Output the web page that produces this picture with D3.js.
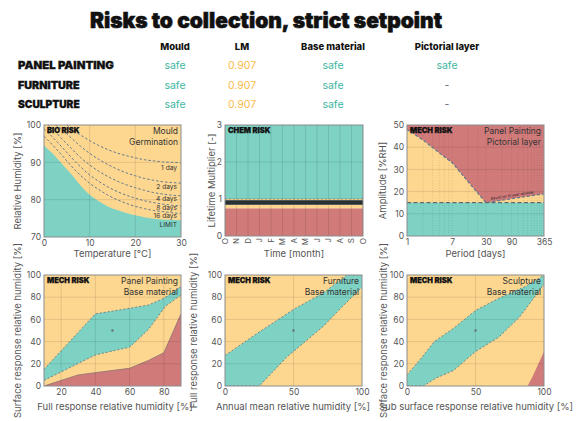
<!DOCTYPE html>
<html>
<head>
<meta charset="utf-8">
<script src="https://cdn.jsdelivr.net/npm/d3@7"></script>
<style>
  body { margin: 0; background: #fff; }
  svg { display: block; font-family: Inter, 'Noto Sans', sans-serif; }
  .tick text { fill: #555; font-size: 8.5px; font-family: Inter, 'Noto Sans', sans-serif; }
  .axis-title { fill: #555; font-size: 9.5px; text-anchor: middle; }
  .risk-tag { font-weight: 900; font-size: 7.5px; fill: #111; }
  .panel-note { font-size: 8.5px; fill: #333; text-anchor: end; }
  .iso-label { font-size: 6.6px; fill: #333; text-anchor: end; }
</style>
</head>
<body>
<svg id="chart"></svg>
<script>
// summary table
const tableColumns = ['Mould', 'LM', 'Base material', 'Pictorial layer'];
const tableRows = ['PANEL PAINTING', 'FURNITURE', 'SCULPTURE'];
const tableValues = [
  ['safe', '0.907', 'safe', 'safe'],
  ['safe', '0.907', 'safe', '-'],
  ['safe', '0.907', 'safe', '-']
];

// bio risk: germination isopleths [temperature, RH]
const isoLimit = [[0, 94.6], [2, 92.2], [4, 89.5], [6, 86.8], [8, 83.8], [10, 81.3], [12, 79.6], [14, 78.2], [16, 77.2], [18, 76.4], [20, 75.8], [22, 75.3], [24, 74.9], [26, 74.7], [28, 74.6], [30, 74.5]];
const iso16 = [[0, 97], [2, 94.5], [4, 91.8], [6, 89], [8, 86.5], [10, 84.4], [12, 82.7], [14, 81.2], [16, 80], [18, 79], [20, 78.2], [22, 77.6], [24, 77.1], [26, 76.8], [28, 76.5], [30, 76.3]];
const iso8 = [[0, 99], [2, 96.6], [4, 94], [6, 91.3], [8, 88.8], [10, 86.6], [12, 84.9], [14, 83.4], [16, 82.2], [18, 81.2], [20, 80.4], [22, 79.7], [24, 79.2], [26, 78.8], [28, 78.5], [30, 78.3]];
const iso4 = [[0.8, 100], [2, 98.8], [4, 96.2], [6, 93.7], [8, 91.3], [10, 89.3], [12, 87.6], [14, 86.2], [16, 85], [18, 84], [20, 83.2], [22, 82.5], [24, 81.9], [26, 81.5], [28, 81.2], [30, 81]];
const iso2 = [[2.5, 100], [4, 98.8], [6, 96.5], [8, 94.3], [10, 92.4], [12, 90.8], [14, 89.4], [16, 88.2], [18, 87.2], [20, 86.4], [22, 85.7], [24, 85.2], [26, 84.8], [28, 84.6], [30, 84.4]];
const iso1 = [[5, 100], [6, 99], [8, 97.3], [10, 95.8], [12, 94.5], [14, 93.4], [16, 92.5], [18, 91.8], [20, 91.2], [22, 90.7], [24, 90.4], [26, 90.1], [28, 90], [30, 89.9]];
const isoNames = ['1 day', '2 days', '4 days', '8 days', '16 days', 'LIMIT'];

// chem risk
const months = ['O', 'N', 'D', 'J', 'F', 'M', 'A', 'M', 'J', 'J', 'A', 'S', 'O'];
const lmValues = [0.907, 0.907, 0.907, 0.907, 0.907, 0.907, 0.907, 0.907, 0.907, 0.907, 0.907, 0.907, 0.907];
const chemBandEdges = [0, 0.75, 1, 3];

// mech risk, pictorial layer: [period days, amplitude]
const pictorialLimit = [[1, 48], [2, 43.2], [4, 37.5], [7, 33], [10, 28.6], [15, 23.5], [30, 15], [365, 19]];
const pictorialSafe = 15;
const periodTicks = [1, 7, 30, 90, 365];
const periodGrid = [2, 3, 4, 5, 6, 7, 14, 21, 30, 60, 90, 120, 150, 180, 210, 240, 270, 300, 330];

// mech risk, base material: [x RH, y RH]
const ppUpper = [[10, 15], [31, 50], [40, 65], [60, 70], [71, 73], [80, 79], [90, 89.5]];
const ppLower = [[10, 5], [40, 28], [60, 35], [71, 51], [81, 72], [90, 82]];
const ppRed = [[10, 0], [30, 10], [40, 12], [60, 16], [71, 23], [80, 30], [90, 65]];
const furUpper = [[0, 27.5], [23, 47], [50, 69], [72, 84], [89, 100], [100, 100]];
const furLower = [[0, 0], [25, 0], [45, 26], [72, 54], [86, 72], [100, 89]];
const scUpper = [[0, 10], [9, 23], [20, 40], [34, 52], [50, 68], [67, 79], [87, 90], [99, 99], [100, 100]];
const scLower = [[0, 0], [12, 0], [21, 7], [34, 14], [50, 31], [67, 44], [82, 62], [93, 80], [100, 92]];
const scRed = [[88, 0], [91.5, 8], [100, 31], [100, 0]];
const setpoint = [50, 50];

const col = { low: '#7dd2c4', mid: '#fdd790', high: '#d17a7a' };

const svg = d3.select('#chart').attr('width', 579).attr('height', 421);
const defs = svg.append('defs');

// title + table
svg.append('text')
    .attr('x', 266).attr('y', 28)
    .attr('text-anchor', 'middle')
    .attr('textLength', 352).attr('lengthAdjust', 'spacingAndGlyphs')
    .style('font-weight', 900).style('font-size', '21px').style('fill', '#111')
    .style('stroke', '#111').style('stroke-width', 0.6)
    .text('Risks to collection, strict setpoint');

const colX = d3.scaleOrdinal().domain(tableColumns).range([175, 242, 333, 447]);
const rowY = d3.scalePoint().domain(tableRows).range([69, 108]);

svg.selectAll('.col-head')
  .data(tableColumns)
  .enter().append('text')
    .attr('x', d => colX(d)).attr('y', 50)
    .attr('text-anchor', 'middle')
    .style('font-weight', 800).style('font-size', '9.5px').style('fill', '#111')
    .text(d => d);

tableRows.forEach((r, i) => {
  svg.append('text')
      .attr('x', 18).attr('y', rowY(r))
      .attr('lengthAdjust', 'spacingAndGlyphs')
      .attr('textLength', r.length * 6.85)
      .style('font-weight', 900).style('font-size', '10.5px').style('fill', '#111')
      .style('stroke', '#111').style('stroke-width', 0.3)
      .text(r);
  tableValues[i].forEach((v, j) => {
    svg.append('text')
        .attr('x', colX(tableColumns[j])).attr('y', rowY(r))
        .attr('text-anchor', 'middle')
        .style('font-size', '10.5px')
        .style('fill', v === 'safe' ? '#3db5a0' : (v === '-' ? '#666' : '#fbbb4c'))
        .text(v);
  });
});

// panel helper
let clipId = 0;
function makePanel(left, top, w, h, x, y) {
  x.range([0, w]);
  y.range([h, 0]);
  const id = `clip${clipId++}`;
  defs.append('clipPath').attr('id', id)
    .append('rect').attr('width', w).attr('height', h);
  const g = svg.append('g').attr('transform', `translate(${left},${top})`);
  const plot = g.append('g').attr('clip-path', `url(#${id})`);
  return { g, plot, x, y, w, h };
}

function grid(p, xs, ys, dash) {
  p.plot.selectAll(null).data(xs).enter().append('line')
      .attr('x1', d => p.x(d)).attr('x2', d => p.x(d))
      .attr('y1', 0).attr('y2', p.h)
      .attr('stroke', 'rgba(0,0,0,0.13)').attr('stroke-width', 0.8)
      .attr('stroke-dasharray', dash || null);
  p.plot.selectAll(null).data(ys).enter().append('line')
      .attr('y1', d => p.y(d)).attr('y2', d => p.y(d))
      .attr('x1', 0).attr('x2', p.w)
      .attr('stroke', 'rgba(0,0,0,0.13)').attr('stroke-width', 0.8);
}

function frame(p) {
  p.g.append('rect')
      .attr('width', p.w).attr('height', p.h)
      .attr('fill', 'none').attr('stroke', '#8c8c8c').attr('stroke-width', 1);
}

function axes(p, xTicks, yTicks, xFmt) {
  if (xTicks) {
    p.g.append('g')
        .attr('transform', `translate(0,${p.h})`)
        .call(d3.axisBottom(p.x).tickValues(xTicks).tickSize(0).tickPadding(3)
          .tickFormat(xFmt || d3.format('d')))
        .call(a => a.select('.domain').remove());
  }
  p.g.append('g')
      .call(d3.axisLeft(p.y).tickValues(yTicks).tickSize(0).tickPadding(3)
        .tickFormat(d3.format('d')))
      .call(a => a.select('.domain').remove());
}

function titles(p, xt, yt, xCenter, xBase, yCenter) {
  p.g.append('text').attr('class', 'axis-title')
      .attr('x', xCenter).attr('y', xBase).text(xt);
  p.g.append('text').attr('class', 'axis-title')
      .attr('transform', `translate(${yCenter},${p.h / 2}) rotate(-90)`)
      .attr('dy', '0.35em').text(yt);
}

function tags(p, risk, line1, line2) {
  p.g.append('text').attr('class', 'risk-tag').attr('x', 3).attr('y', 8)
      .style('stroke', '#111').style('stroke-width', 0.25).text(risk);
  if (line1) p.g.append('text').attr('class', 'panel-note').attr('x', p.w - 3).attr('y', 9).text(line1);
  if (line2) p.g.append('text').attr('class', 'panel-note').attr('x', p.w - 3).attr('y', 20).text(line2);
}

// ---- BIO RISK
const bio = makePanel(44, 125, 137, 112, d3.scaleLinear().domain([0, 30]), d3.scaleLinear().domain([70, 100]));
bio.plot.append('rect').attr('width', bio.w).attr('height', bio.h).attr('fill', col.mid);
bio.plot.append('path')
    .datum(isoLimit)
    .attr('fill', col.low)
    .attr('d', d3.area().x(d => bio.x(d[0])).y0(bio.h).y1(d => bio.y(d[1])).curve(d3.curveMonotoneX));
grid(bio, [10, 20], [80, 90]);
[iso1, iso2, iso4, iso8, iso16].forEach(iso => {
  bio.plot.append('path')
      .datum(iso)
      .attr('fill', 'none').attr('stroke', '#4f6f8f').attr('stroke-width', 0.9)
      .attr('stroke-dasharray', '2.5,2')
      .attr('d', d3.line().x(d => bio.x(d[0])).y(d => bio.y(d[1])).curve(d3.curveMonotoneX));
});
const isoOffset = [7.3, 5.8, 5, 4.2, 5, 6.7];
[iso1, iso2, iso4, iso8, iso16, isoLimit].forEach((iso, i) => {
  const last = iso[iso.length - 1];
  bio.g.append('text').attr('class', 'iso-label')
      .attr('x', bio.w - 4).attr('y', bio.y(last[1]) + isoOffset[i])
      .text(isoNames[i]);
});
frame(bio);
axes(bio, [0, 10, 20, 30], [70, 80, 90, 100]);
titles(bio, 'Temperature [\u00b0C]', 'Relative Humidity [%]', 68.5, 132, -26);
tags(bio, 'BIO RISK', 'Mould', 'Germination');

// ---- CHEM RISK
const chem = makePanel(225, 125, 138, 111, d3.scaleLinear().domain([0, months.length - 1]), d3.scaleLinear().domain([0, 3]));
const bandFill = [col.high, col.mid, col.low];
chem.plot.selectAll(null).data(d3.pairs(chemBandEdges)).enter().append('rect')
    .attr('x', 0).attr('width', chem.w)
    .attr('y', d => chem.y(d[1])).attr('height', d => chem.y(d[0]) - chem.y(d[1]))
    .attr('fill', (d, i) => bandFill[i]);
grid(chem, d3.range(months.length), [1, 2]);
chem.plot.append('line')
    .attr('x1', 0).attr('x2', chem.w)
    .attr('y1', chem.y(1)).attr('y2', chem.y(1))
    .attr('stroke', '#9a8a60').attr('stroke-width', 0.8).attr('stroke-dasharray', '2,2');
const lmLine = d3.line().x((d, i) => chem.x(i)).y(d => chem.y(d));
chem.plot.append('path').datum(lmValues)
    .attr('fill', 'none').attr('stroke', '#5f6668').attr('stroke-width', 5).attr('d', lmLine);
chem.plot.append('path').datum(lmValues)
    .attr('fill', 'none').attr('stroke', '#2a3133').attr('stroke-width', 3.5).attr('d', lmLine);
frame(chem);
axes(chem, null, [0, 1, 2, 3]);
chem.g.selectAll('.month')
  .data(months)
  .enter().append('text')
    .attr('transform', (d, i) => `translate(${chem.x(i)},${chem.h + 2}) rotate(-90)`)
    .attr('text-anchor', 'end').attr('dy', '0.35em')
    .style('font-size', '8px').style('fill', '#555')
    .text(d => d);
titles(chem, 'Time [month]', 'Lifetime Multiplier [-]', 69, 132, -13);
tags(chem, 'CHEM RISK');

// ---- MECH RISK, pictorial layer
const pict = makePanel(407, 125, 137, 111, d3.scaleLog().domain([1, 365]), d3.scaleLinear().domain([0, 50]));
pict.plot.append('rect').attr('width', pict.w).attr('height', pict.h).attr('fill', col.high);
pict.plot.append('path').datum(pictorialLimit)
    .attr('fill', col.mid)
    .attr('d', d3.area().x(d => pict.x(d[0])).y0(pict.h).y1(d => pict.y(d[1])));
pict.plot.append('rect')
    .attr('y', pict.y(pictorialSafe)).attr('width', pict.w)
    .attr('height', pict.h - pict.y(pictorialSafe)).attr('fill', col.low);
grid(pict, periodGrid, [10, 20, 30, 40], '1,1.5');
pict.plot.append('path').datum(pictorialLimit)
    .attr('fill', 'none').attr('stroke', '#5a7890').attr('stroke-width', 1.2)
    .attr('stroke-dasharray', '3,2')
    .attr('d', d3.line().x(d => pict.x(d[0])).y(d => pict.y(d[1])));
pict.plot.append('line')
    .attr('x1', 0).attr('x2', pict.w)
    .attr('y1', pict.y(pictorialSafe)).attr('y2', pict.y(pictorialSafe))
    .attr('stroke', '#5d6b70').attr('stroke-width', 1.3).attr('stroke-dasharray', '4,2.5');
{
  const a = pictorialLimit[pictorialLimit.length - 2];
  const b = pictorialLimit[pictorialLimit.length - 1];
  const ang = Math.atan2(pict.y(b[1]) - pict.y(a[1]), pict.x(b[0]) - pict.x(a[0])) * 180 / Math.PI;
  const mx = pict.x(a[0]) + 5;
  const my = pict.y(a[1] + 0.4) - 2;
  pict.g.append('text')
      .attr('transform', `translate(${mx},${my}) rotate(${ang})`)
      .style('font-size', '3.6px').style('fill', '#222')
      .text('Based on 10 year window');
}
frame(pict);
axes(pict, periodTicks, [0, 10, 20, 30, 40, 50], d3.format('d'));
titles(pict, 'Period [days]', 'Amplitude [%RH]', 68.5, 132, -24);
tags(pict, 'MECH RISK', 'Panel Painting', 'Pictorial layer');

// ---- MECH RISK, base material panels
function basePanel(left, xDomain, upper, lower, red, name, xTicks, xt, yt, xCenter, yCenter, redEdge) {
  const p = makePanel(left, 275, 137, 111, d3.scaleLinear().domain(xDomain), d3.scaleLinear().domain([0, 100]));
  p.plot.append('rect').attr('width', p.w).attr('height', p.h).attr('fill', col.mid);
  const pt = d3.line().x(d => p.x(d[0])).y(d => p.y(d[1]));
  p.plot.append('path')
      .datum(upper.concat(lower.slice().reverse()))
      .attr('fill', col.low).attr('d', d => pt(d) + 'Z');
  if (red) {
    p.plot.append('path').datum(red)
        .attr('fill', col.high)
        .attr('d', redEdge
          ? d3.area().x(d => p.x(d[0])).y0(p.h).y1(d => p.y(d[1]))
          : d => pt(d) + 'Z');
    if (redEdge) {
      p.plot.append('path').datum(red)
          .attr('fill', 'none').attr('stroke', '#8a7070').attr('stroke-width', 0.8)
          .attr('d', pt);
    }
  }
  grid(p, xTicks.filter(t => t > xDomain[0] && t < xDomain[1]), [20, 40, 60, 80]);
  [upper, lower].forEach(b => {
    p.plot.append('path').datum(b)
        .attr('fill', 'none').attr('stroke', '#6f7a7c').attr('stroke-width', 0.9)
        .attr('stroke-dasharray', '2,2').attr('d', pt);
  });
  p.plot.append('circle')
      .attr('cx', p.x(setpoint[0])).attr('cy', p.y(setpoint[1])).attr('r', 1.3)
      .attr('fill', '#6a7676');
  frame(p);
  axes(p, xTicks, [0, 20, 40, 60, 80, 100]);
  titles(p, xt, yt, xCenter, 135, yCenter);
  tags(p, 'MECH RISK', name, 'Base material');
  return p;
}

basePanel(44, [10, 90], ppUpper, ppLower, ppRed, 'Panel Painting', [20, 40, 60, 80],
  'Full response relative humidity [%]', 'Surface response relative humidity [%]', 71, -26, true);
basePanel(225, [0, 100], furUpper, furLower, null, 'Furniture', [0, 50, 100],
  'Annual mean relative humidity [%]', 'Full response relative humidity [%]', 68, -31, false);
basePanel(407, [0, 100], scUpper, scLower, scRed, 'Sculpture', [0, 50, 100],
  'Sub surface response relative humidity [%]', 'Surface response relative humidity [%]', 69, -23, false);
</script>
</body>
</html>
